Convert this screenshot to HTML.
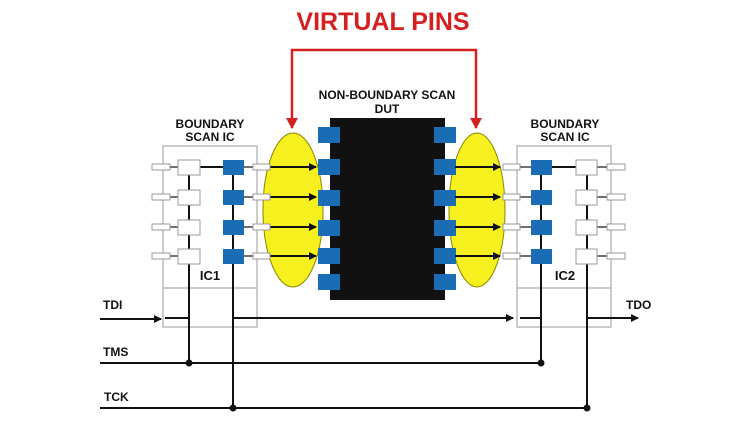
<!DOCTYPE html>
<html><head><meta charset="utf-8"><style>
html,body{margin:0;padding:0;background:#fff;}
svg{display:block;font-family:"Liberation Sans",Arial,sans-serif;font-weight:bold;}
</style></head><body>
<svg width="750" height="422" viewBox="0 0 750 422" xmlns="http://www.w3.org/2000/svg">
<defs>
<marker id="ah" markerWidth="8" markerHeight="8" refX="7" refY="4" orient="auto" markerUnits="userSpaceOnUse"><path d="M0,0 L8,4 L0,8 Z" fill="#111"/></marker>
</defs>
<text x="383" y="30" font-size="25" fill="#d42020" text-anchor="middle">VIRTUAL PINS</text>
<path d="M292,128 V50 H476 V128" fill="none" stroke="#d42020" stroke-width="2.5"/>
<path d="M286,118 L292,129 L298,118 Z M470,118 L476,129 L482,118 Z" fill="#d42020"/>
<text x="387" y="99" font-size="12" text-anchor="middle" fill="#111">NON-BOUNDARY SCAN</text>
<text x="387" y="113" font-size="12" text-anchor="middle" fill="#111">DUT</text>
<text x="210" y="128" font-size="12" text-anchor="middle" fill="#111">BOUNDARY</text>
<text x="210" y="141" font-size="12" text-anchor="middle" fill="#111">SCAN IC</text>
<text x="565" y="128" font-size="12" text-anchor="middle" fill="#111">BOUNDARY</text>
<text x="565" y="141" font-size="12" text-anchor="middle" fill="#111">SCAN IC</text>

<ellipse cx="293" cy="210" rx="30" ry="77" fill="#f5f01e" stroke="#8a8500" stroke-width="1"/>
<ellipse cx="477" cy="210" rx="28" ry="77" fill="#f5f01e" stroke="#8a8500" stroke-width="1"/>
<!-- DUT -->
<rect x="330" y="118" width="115" height="182" fill="#111"/>
<g fill="#1a6db5">
<rect x="318" y="127" width="22" height="16"/><rect x="318" y="159" width="22" height="16"/><rect x="318" y="190" width="22" height="16"/><rect x="318" y="220" width="22" height="16"/><rect x="318" y="248" width="22" height="16"/><rect x="318" y="274" width="22" height="16"/>
<rect x="434" y="127" width="22" height="16"/><rect x="434" y="159" width="22" height="16"/><rect x="434" y="190" width="22" height="16"/><rect x="434" y="220" width="22" height="16"/><rect x="434" y="248" width="22" height="16"/><rect x="434" y="274" width="22" height="16"/>
</g>

<!-- IC boxes -->
<g fill="none" stroke="#aaa" stroke-width="1.2">
<rect x="163" y="146" width="94" height="181"/><line x1="163" y1="288" x2="257" y2="288"/>
<rect x="517" y="146" width="94" height="181"/><line x1="517" y1="288" x2="611" y2="288"/>
</g>
<text x="210" y="280" font-size="13" text-anchor="middle" fill="#111">IC1</text>
<text x="565" y="280" font-size="13" text-anchor="middle" fill="#111">IC2</text>

<g stroke="#111" stroke-width="2" fill="none">
<path d="M100,319 H161" marker-end="url(#ah)"/>
<path d="M165,318 H189 V167 H223"/>
<path d="M233,167 V318 H513" marker-end="url(#ah)"/>
<path d="M189,318 V363 M233,318 V408"/>
<path d="M520,318 H541 V167 H587 V318 H638" marker-end="url(#ah)"/>
<path d="M541,318 V363 M587,318 V408"/>
<path d="M100,363 H541 M100,408 H587"/>
</g>
<g stroke="#111" stroke-width="1.2">
<line x1="170" y1="167" x2="178" y2="167"/><line x1="170" y1="197" x2="178" y2="197"/><line x1="170" y1="227" x2="178" y2="227"/><line x1="170" y1="256" x2="178" y2="256"/>
<line x1="243" y1="167" x2="253" y2="167"/><line x1="243" y1="197" x2="253" y2="197"/><line x1="243" y1="227" x2="253" y2="227"/><line x1="243" y1="256" x2="253" y2="256"/>
<line x1="520" y1="167" x2="531" y2="167"/><line x1="520" y1="197" x2="531" y2="197"/><line x1="520" y1="227" x2="531" y2="227"/><line x1="520" y1="256" x2="531" y2="256"/>
<line x1="597" y1="167" x2="607" y2="167"/><line x1="597" y1="197" x2="607" y2="197"/><line x1="597" y1="227" x2="607" y2="227"/><line x1="597" y1="256" x2="607" y2="256"/>
</g>
<g stroke="#111" stroke-width="2" fill="none">
<path d="M270,167 H316" marker-end="url(#ah)"/><path d="M270,197 H316" marker-end="url(#ah)"/><path d="M270,227 H316" marker-end="url(#ah)"/><path d="M270,256 H316" marker-end="url(#ah)"/>
<path d="M455,167 H500" marker-end="url(#ah)"/><path d="M455,197 H500" marker-end="url(#ah)"/><path d="M455,227 H500" marker-end="url(#ah)"/><path d="M455,256 H500" marker-end="url(#ah)"/>
</g>
<g fill="#fff" stroke="#999" stroke-width="1">
<rect x="178" y="160" width="22" height="15"/><rect x="178" y="190" width="22" height="15"/><rect x="178" y="220" width="22" height="15"/><rect x="178" y="249" width="22" height="15"/>
<rect x="576" y="160" width="21" height="15"/><rect x="576" y="190" width="21" height="15"/><rect x="576" y="220" width="21" height="15"/><rect x="576" y="249" width="21" height="15"/>
<rect x="152" y="164" width="18" height="6"/><rect x="152" y="194" width="18" height="6"/><rect x="152" y="224" width="18" height="6"/><rect x="152" y="253" width="18" height="6"/>
<rect x="253" y="164" width="17" height="6"/><rect x="253" y="194" width="17" height="6"/><rect x="253" y="224" width="17" height="6"/><rect x="253" y="253" width="17" height="6"/>
<rect x="503" y="164" width="17" height="6"/><rect x="503" y="194" width="17" height="6"/><rect x="503" y="224" width="17" height="6"/><rect x="503" y="253" width="17" height="6"/>
<rect x="607" y="164" width="18" height="6"/><rect x="607" y="194" width="18" height="6"/><rect x="607" y="224" width="18" height="6"/><rect x="607" y="253" width="18" height="6"/>
</g>
<g fill="#1a6db5">
<rect x="223" y="160" width="21" height="15"/><rect x="223" y="190" width="21" height="15"/><rect x="223" y="220" width="21" height="15"/><rect x="223" y="249" width="21" height="15"/>
<rect x="531" y="160" width="21" height="15"/><rect x="531" y="190" width="21" height="15"/><rect x="531" y="220" width="21" height="15"/><rect x="531" y="249" width="21" height="15"/>
</g>
<g fill="#111">
<circle cx="189" cy="363" r="3.5"/><circle cx="541" cy="363" r="3.5"/><circle cx="233" cy="408" r="3.5"/><circle cx="587" cy="408" r="3.5"/>
</g>
<g font-size="12" fill="#111">
<text x="103" y="309">TDI</text><text x="103" y="356">TMS</text><text x="104" y="401">TCK</text><text x="626" y="309">TDO</text>
</g>
</svg>
</body></html>
